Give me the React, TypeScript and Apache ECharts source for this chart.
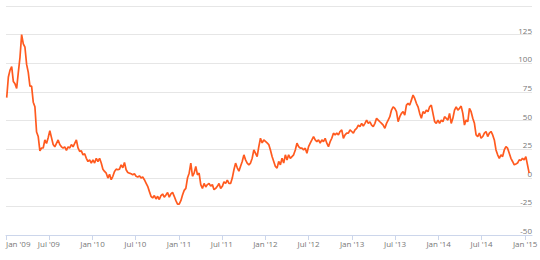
import React, { useEffect, useRef } from "react";
import * as echarts from "echarts";

// Weekly observations, starting date and spacing
const startDate = "2009-01-04";
const stepDays = 7;

const values2009 = [70, 88, 94, 97, 84, 82, 78, 92, 105, 125, 117, 114, 99, 92, 80, 80, 66, 62, 40, 36, 23.5, 26, 26, 33, 30, 35, 41, 35, 29, 27, 30, 33, 29, 27, 26, 27, 24, 27, 26, 29, 27, 30, 33, 26, 23, 23.5, 20, 21, 17];
const values2010 = [14.2, 15.6, 12.8, 15.6, 12.8, 17, 14.2, 17, 12.8, 7.5, 5.5, 4, -0.3, 3, -1.7, 1.3, 5.5, 7.5, 7, 7.5, 11.3, 8.7, 13.3, 7, 4.6, 4, 3.5, 2.6, 3.5, 1.3, 0.6, 1.7, -0.3, 0.6, -1.7, -4.6, -7.5, -11.9, -16.2, -17.6, -15.6, -18.5, -16.2, -19, -15.6, -14.2, -17, -15, -12.8, -17, -14, -12.8, -16.2, -20, -23, -23, -20, -15, -11];
const values2011 = [-9.3, -0.3, 4, 12.8, 1.3, 4, 9.9, 2.6, 4, -6, -9.3, -5, -8, -6, -5, -7.3, -6, -10.4, -9.3, -7.5, -5, -9.3, -7.5, -3.5, -5, -2, -5, -5, -0.3, 7, 12.8, 8.7, 5.8, 10, 14.2, 20, 15.6, 12.8, 11.3, 12.8, 17, 24.3, 21.4, 18.5, 27.2, 34.5, 30.4, 33];
const values2012 = [31.7, 30.4, 29, 24.3, 18.5, 14.2, 9.9, 8.4, 14.2, 11.3, 17, 12.8, 20, 15.6, 20, 17, 18.5, 20, 24.3, 30.2, 27.2, 25.8, 25.8, 24.3, 25.8, 21.4, 27.2, 30.2, 33, 36, 33, 31.5, 33, 30.2, 33, 31.5, 34.5, 30.2, 27.2, 31.5, 34.5, 38.9, 37.4, 38.9, 37.4, 40.4, 41.8, 34.5, 37.4, 38.9, 38.9, 41.8, 40.4];
const values2013 = [38.9, 41.8, 43.2, 46, 44.6, 47.5, 45.2, 47.5, 50.4, 47.5, 48.9, 46, 44.6, 47.5, 51.9, 50.4, 48.9, 47.5, 46, 43.2, 47.5, 50.4, 53.3, 59.1, 62, 60.6, 57.7, 49, 53.3, 56.2, 57.7, 54.8, 63.5, 65, 63.5, 67.8, 72.2, 69.3, 65, 62, 56.2, 51.9, 57.7, 56.2, 59.1, 57.7, 62, 63.5, 56.2, 49, 47.5, 50.4, 47.5, 50.4, 48.9, 53.3, 51.9];
const values2014 = [50.4, 56.2, 47.5, 51.9, 59.1, 62, 59.1, 60.6, 62.6, 56.2, 46, 50.4, 48.9, 60.6, 57.7, 52, 47.5, 37.4, 36, 39, 34.5, 36, 39, 40.4, 36, 39, 40.4, 37.4, 33, 24.3, 20, 17, 20, 18.5, 24.3, 27.2, 25.8, 21.4, 17, 14.2, 11.3, 12, 12.8, 15.6, 15, 17, 15.6, 18.5, 11.3, 4];

const tickDates = ["2009-01-01", "2009-07-01", "2010-01-01", "2010-07-01", "2011-01-01", "2011-07-01", "2012-01-01", "2012-07-01", "2013-01-01", "2013-07-01", "2014-01-01", "2014-07-01", "2015-01-01"];
const tickLabels = ["Jan '09", "Jul '09", "Jan '10", "Jul '10", "Jan '11", "Jul '11", "Jan '12", "Jul '12", "Jan '13", "Jul '13", "Jan '14", "Jul '14", "Jan '15"];

const xMin = "2009-01-01";
const xMax = "2015-01-30";
const yMin = -50;
const yMax = 150;
const yStep = 25;

const ts = (s: string) => Date.UTC(+s.slice(0, 4), +s.slice(5, 7) - 1, +s.slice(8, 10));

export default function App() {
  const ref = useRef<HTMLDivElement>(null);

  useEffect(() => {
    if (!ref.current) return;
    const chart = echarts.init(ref.current, undefined, { renderer: "svg" });
    const allValues = [...values2009, ...values2010, ...values2011, ...values2012, ...values2013, ...values2014];
    const start = ts(startDate);
    const dayMs = 24 * 3600 * 1000;
    const data = allValues.map((v, i) => [start + i * stepDays * dayMs, v]);
    const tickTs = tickDates.map(ts);

    chart.setOption({
      animation: false,
      backgroundColor: "#ffffff",
      grid: { left: 6, right: 8, top: 6, bottom: 25, containLabel: false, outerBoundsMode: "none" },
      xAxis: {
        type: "value",
        min: ts(xMin),
        max: ts(xMax),
        axisLine: { show: true, onZero: false, lineStyle: { color: "#ccd6eb", width: 1 } },
        axisTick: { show: true, length: 5, lineStyle: { color: "#ccd6eb" }, customValues: tickTs },
        axisLabel: {
          customValues: tickTs,
          margin: 4,
          fontSize: 8,
          fontFamily: "Open Sans",
          color: "#777777",
          alignMinLabel: "left",
          formatter: (val: number) => {
            const idx = tickTs.findIndex((t) => Math.abs(t - val) < 12 * 3600 * 1000);
            return idx >= 0 ? tickLabels[idx] : "";
          },
        },
        splitLine: { show: false },
      },
      yAxis: {
        type: "value",
        position: "right",
        min: yMin,
        max: yMax,
        interval: yStep,
        axisLine: { show: false },
        axisTick: { show: false },
        splitLine: { show: true, lineStyle: { color: "#e6e6e6", width: 1 } },
        axisLabel: {
          inside: true,
          margin: 0,
          verticalAlign: "bottom",
          fontSize: 8,
          lineHeight: 9,
          fontFamily: "Open Sans",
          color: "#777777",
          formatter: (v: number) => (v === yMax ? "" : String(v)),
        },
      },
      series: [
        {
          type: "line",
          data,
          showSymbol: false,
          symbol: "none",
          lineStyle: { color: "#ff5a1f", width: 1.7 },
          itemStyle: { color: "#ff5a1f" },
        },
      ],
    });
    return () => chart.dispose();
  }, []);

  return (
    <div
      ref={ref}
      style={{ position: "fixed", left: 0, top: 0, width: 540, height: 260, background: "#fff" }}
    />
  );
}
